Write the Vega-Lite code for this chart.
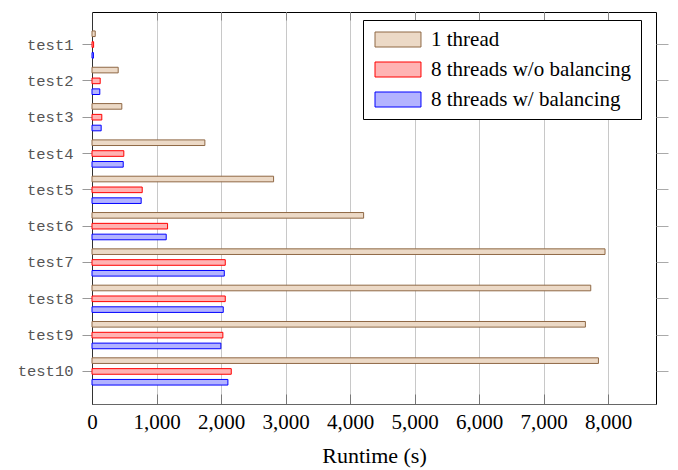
{
  "$schema": "https://vega.github.io/schema/vega-lite/v6.json",
  "width": 564,
  "height": 392,
  "autosize": {"type": "none"},
  "padding": {"left": 92, "top": 12, "right": 22, "bottom": 66},
  "background": "white",
  "config": {
    "view": {"stroke": "#000", "strokeWidth": 1},
    "axis": {"labelFont": "Liberation Serif", "titleFont": "Liberation Serif"}
  },
  "data": {
    "values": [
      {"test": "test1", "series": "1 thread", "value": 50},
      {"test": "test1", "series": "8 threads w/o balancing", "value": 25},
      {"test": "test1", "series": "8 threads w/ balancing", "value": 22},
      {"test": "test2", "series": "1 thread", "value": 406},
      {"test": "test2", "series": "8 threads w/o balancing", "value": 127},
      {"test": "test2", "series": "8 threads w/ balancing", "value": 121},
      {"test": "test3", "series": "1 thread", "value": 462},
      {"test": "test3", "series": "8 threads w/o balancing", "value": 152},
      {"test": "test3", "series": "8 threads w/ balancing", "value": 142},
      {"test": "test4", "series": "1 thread", "value": 1749},
      {"test": "test4", "series": "8 threads w/o balancing", "value": 493},
      {"test": "test4", "series": "8 threads w/ balancing", "value": 484},
      {"test": "test5", "series": "1 thread", "value": 2814},
      {"test": "test5", "series": "8 threads w/o balancing", "value": 778},
      {"test": "test5", "series": "8 threads w/ balancing", "value": 762},
      {"test": "test6", "series": "1 thread", "value": 4209},
      {"test": "test6", "series": "8 threads w/o balancing", "value": 1171},
      {"test": "test6", "series": "8 threads w/ balancing", "value": 1150},
      {"test": "test7", "series": "1 thread", "value": 7950},
      {"test": "test7", "series": "8 threads w/o balancing", "value": 2065},
      {"test": "test7", "series": "8 threads w/ balancing", "value": 2050},
      {"test": "test8", "series": "1 thread", "value": 7729},
      {"test": "test8", "series": "8 threads w/o balancing", "value": 2065},
      {"test": "test8", "series": "8 threads w/ balancing", "value": 2034},
      {"test": "test9", "series": "1 thread", "value": 7646},
      {"test": "test9", "series": "8 threads w/o balancing", "value": 2028},
      {"test": "test9", "series": "8 threads w/ balancing", "value": 1997},
      {"test": "test10", "series": "1 thread", "value": 7848},
      {"test": "test10", "series": "8 threads w/o balancing", "value": 2158},
      {"test": "test10", "series": "8 threads w/ balancing", "value": 2106}
    ]
  },
  "layer": [
    {
      "mark": {"type": "bar", "strokeWidth": 1, "opacity": 1},
      "encoding": {
        "y": {
          "field": "test", "type": "nominal",
          "sort": ["test1","test2","test3","test4","test5","test6","test7","test8","test9","test10"],
          "scale": {"paddingInner": 0.107, "paddingOuter": 0.45},
          "axis": {
            "orient": "left", "title": null,
            "labelFont": "Liberation Mono", "labelFontSize": 15.5, "labelColor": "#555",
            "labelPadding": 9, "tickSize": 10, "tickColor": "#999", "tickWidth": 1,
            "domainColor": "#333", "domainWidth": 1
          }
        },
        "yOffset": {
          "field": "series", "type": "nominal",
          "sort": ["1 thread", "8 threads w/o balancing", "8 threads w/ balancing"],
          "scale": {"paddingInner": 0.48, "paddingOuter": 0.24}
        },
        "x": {
          "field": "value", "type": "quantitative",
          "scale": {"domain": [0, 8740], "nice": false, "zero": true},
          "axis": {
            "orient": "bottom", "title": "Runtime (s)",
            "values": [0,1000,2000,3000,4000,5000,6000,7000,8000],
            "format": ",d", "labelFlush": false, "labelOverlap": false,
            "labelFontSize": 21, "labelColor": "#000", "labelPadding": 17,
            "titleFontSize": 22, "titleFontWeight": "normal", "titleColor": "#000", "titlePadding": 13,
            "tickSize": -10, "tickColor": "#777",
            "grid": true, "gridColor": "#c8c8c8", "gridWidth": 1,
            "domainColor": "#666", "domainWidth": 1.2
          }
        },
        "fill": {
          "field": "series", "type": "nominal",
          "sort": ["1 thread", "8 threads w/o balancing", "8 threads w/ balancing"],
          "scale": {"domain": ["1 thread", "8 threads w/o balancing", "8 threads w/ balancing"], "range": ["#ecd9c6", "#ffb3b3", "#b3b3ff"]},
          "legend": {
            "title": null, "orient": "none", "legendX": 271, "legendY": 8,
            "strokeColor": "#000", "fillColor": "#fff", "padding": 9,
            "symbolType": "M-1,-1H5.13V1H-1Z", "symbolSize": 225, "symbolStrokeWidth": 1,
            "labelOffset": 38, "labelFont": "Liberation Serif", "labelFontSize": 21, "labelColor": "#000",
            "rowPadding": 8, "labelLimit": 400
          }
        },
        "stroke": {
          "field": "series", "type": "nominal",
          "scale": {"domain": ["1 thread", "8 threads w/o balancing", "8 threads w/ balancing"], "range": ["#8f6845", "#ff0000", "#0000ff"]},
          "legend": null
        }
      }
    },
    {
      "mark": {"type": "bar", "opacity": 0},
      "encoding": {
        "y": {
          "field": "test", "type": "nominal",
          "sort": ["test1","test2","test3","test4","test5","test6","test7","test8","test9","test10"],
          "axis": {"orient": "right", "title": null, "labels": false, "domain": false, "tickSize": 12, "tickColor": "#aaa"}
        },
        "x": {
          "field": "value", "type": "quantitative",
          "axis": {"orient": "top", "title": null, "labels": false, "domain": false, "grid": false,
                   "values": [0,1000,2000,3000,4000,5000,6000,7000,8000], "tickSize": -8, "tickColor": "#888"}
        }
      }
    }
  ],
  "resolve": {"axis": {"x": "independent", "y": "independent"}}
}
